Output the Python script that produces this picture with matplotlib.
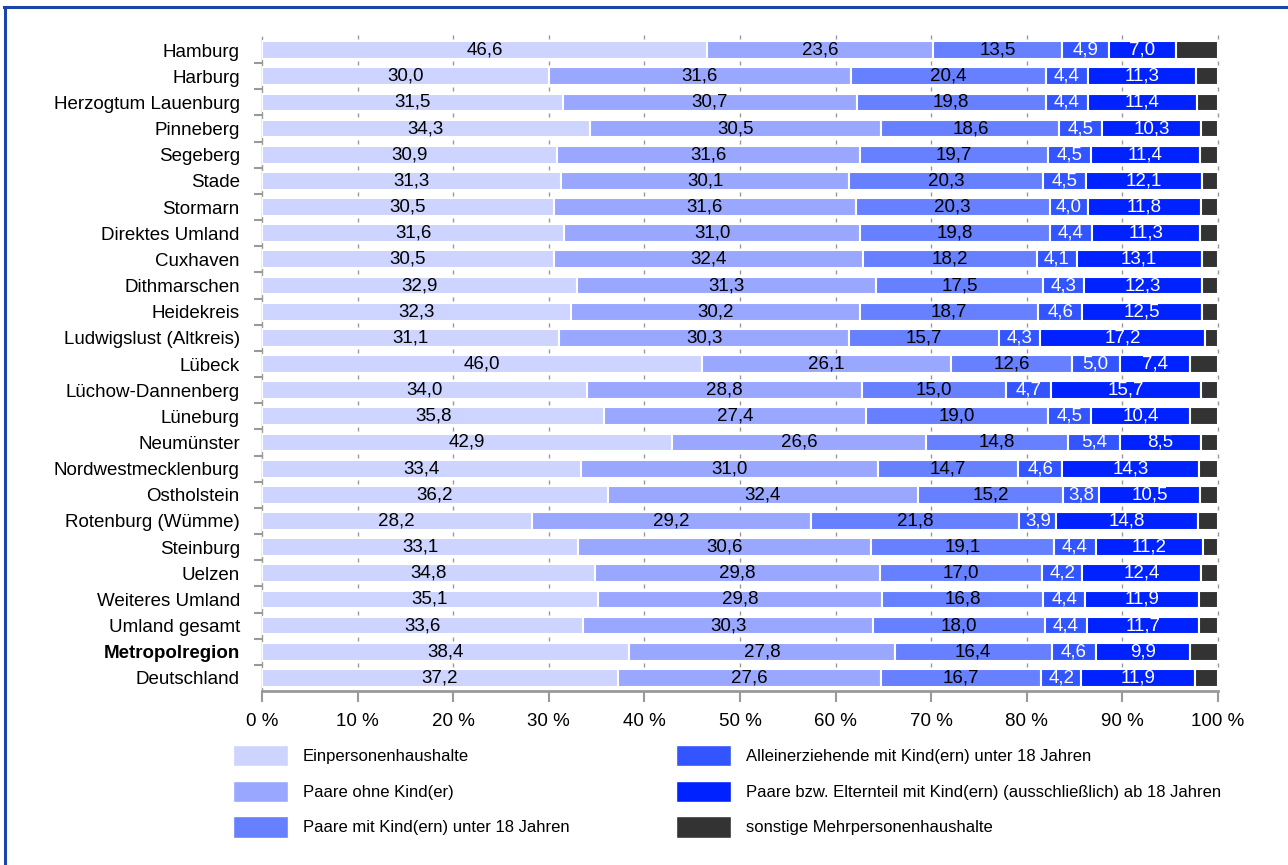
import matplotlib
matplotlib.use("Agg")
import matplotlib.pyplot as plt
from matplotlib.lines import Line2D
from matplotlib.patches import Patch
import numpy as np

plt.rcParams["font.family"] = ["Liberation Sans", "DejaVu Sans"]

regions = [
    "Hamburg", "Harburg", "Herzogtum Lauenburg", "Pinneberg", "Segeberg",
    "Stade", "Stormarn", "Direktes Umland", "Cuxhaven", "Dithmarschen",
    "Heidekreis", "Ludwigslust (Altkreis)", "Lübeck", "Lüchow-Dannenberg",
    "Lüneburg", "Neumünster", "Nordwestmecklenburg", "Ostholstein",
    "Rotenburg (Wümme)", "Steinburg", "Uelzen", "Weiteres Umland",
    "Umland gesamt", "Metropolregion", "Deutschland",
]

einpersonen = [46.6, 30.0, 31.5, 34.3, 30.9, 31.3, 30.5, 31.6, 30.5, 32.9,
               32.3, 31.1, 46.0, 34.0, 35.8, 42.9, 33.4, 36.2, 28.2, 33.1,
               34.8, 35.1, 33.6, 38.4, 37.2]
paare_ohne = [23.6, 31.6, 30.7, 30.5, 31.6, 30.1, 31.6, 31.0, 32.4, 31.3,
              30.2, 30.3, 26.1, 28.8, 27.4, 26.6, 31.0, 32.4, 29.2, 30.6,
              29.8, 29.8, 30.3, 27.8, 27.6]
paare_mit = [13.5, 20.4, 19.8, 18.6, 19.7, 20.3, 20.3, 19.8, 18.2, 17.5,
             18.7, 15.7, 12.6, 15.0, 19.0, 14.8, 14.7, 15.2, 21.8, 19.1,
             17.0, 16.8, 18.0, 16.4, 16.7]
alleinerz = [4.9, 4.4, 4.4, 4.5, 4.5, 4.5, 4.0, 4.4, 4.1, 4.3,
             4.6, 4.3, 5.0, 4.7, 4.5, 5.4, 4.6, 3.8, 3.9, 4.4,
             4.2, 4.4, 4.4, 4.6, 4.2]
ab18 = [7.0, 11.3, 11.4, 10.3, 11.4, 12.1, 11.8, 11.3, 13.1, 12.3,
        12.5, 17.2, 7.4, 15.7, 10.4, 8.5, 14.3, 10.5, 14.8, 11.2,
        12.4, 11.9, 11.7, 9.9, 11.9]
sonstige = [4.4, 2.3, 2.2, 1.8, 1.9, 1.7, 1.8, 1.9, 1.7, 1.7,
            1.7, 1.4, 2.9, 1.8, 2.9, 1.8, 2.0, 1.9, 2.1, 1.6,
            1.8, 2.0, 2.0, 2.9, 2.4]

series_labels = [
    "Einpersonenhaushalte",
    "Paare ohne Kind(er)",
    "Paare mit Kind(ern) unter 18 Jahren",
    "Alleinerziehende mit Kind(ern) unter 18 Jahren",
    "Paare bzw. Elternteil mit Kind(ern) (ausschließlich) ab 18 Jahren",
    "sonstige Mehrpersonenhaushalte",
]
colors = ["#CCD4FF", "#99A7FF", "#6680FF", "#3355FF", "#0022FF", "#333333"]
text_colors = ["black", "black", "black", "white", "white", None]
xticks = [0, 10, 20, 30, 40, 50, 60, 70, 80, 90, 100]

series = [einpersonen, paare_ohne, paare_mit, alleinerz, ab18, sonstige]

FS = 13.5

fig = plt.figure(figsize=(12.88, 8.65), dpi=100)
ax = fig.add_axes([262 / 1288, 1 - 691 / 865, 956 / 1288, 654 / 865])

y = np.arange(len(regions))
left = np.zeros(len(regions))
for vals, col, tcol in zip(series, colors, text_colors):
    vals = np.array(vals)
    ax.barh(y, vals, left=left, height=0.68, color=col,
            edgecolor="white", linewidth=1.5, zorder=3)
    if tcol is not None:
        for yi, l, v in zip(y, left, vals):
            ax.text(l + v / 2, yi, f"{v:.1f}".replace(".", ","),
                    ha="center", va="center", fontsize=FS, color=tcol,
                    zorder=4)
    left = left + vals

ax.set_xlim(0, 100)
ax.set_ylim(len(regions) - 0.5, -0.5)

# small grid marks in the gaps between bars
bounds = np.arange(len(regions)) - 0.5
gx, gy = np.meshgrid(xticks[1:], bounds)
ax.plot(gx.ravel(), gy.ravel(), ls="none", marker="|", ms=3, mew=1,
        color="#999999", zorder=1, clip_on=False)

ax.set_xticks(xticks)
ax.set_xticklabels([f"{t} %" for t in xticks], fontsize=FS)
ax.tick_params(axis="x", length=8, width=1.5, color="#999999", pad=8)

ax.set_yticks(y)
ax.set_yticklabels(regions, fontsize=FS)
ax.get_yticklabels()[regions.index("Metropolregion")].set_fontweight("bold")
ax.tick_params(axis="y", length=0, pad=16)
ax.set_yticks(bounds[1:], minor=True)
ax.tick_params(axis="y", which="minor", length=6, width=1.5, color="#999999")

for s in ("top", "right"):
    ax.spines[s].set_visible(False)
ax.spines["left"].set_color("#999999")
ax.spines["left"].set_linewidth(1)
ax.spines["bottom"].set_color("#999999")
ax.spines["bottom"].set_linewidth(2)

# legend, two columns of three
handles = [Patch(facecolor=c, edgecolor="white") for c in colors]
leg_kw = dict(frameon=False, fontsize=12, handlelength=3.3, handleheight=1.6,
              handletextpad=0.9, labelspacing=0.85, borderpad=0,
              borderaxespad=0, loc="upper left")
leg1 = fig.legend(handles[:3], series_labels[:3],
                  bbox_to_anchor=(233 / 1288, 1 - 745 / 865), **leg_kw)
leg2 = fig.legend(handles[3:], series_labels[3:],
                  bbox_to_anchor=(676 / 1288, 1 - 745 / 865), **leg_kw)

# frame line (top and left only visible)
frame_col = "#1A46A5"
fig.add_artist(Line2D([4 / 1288, 1], [1 - 7 / 865, 1 - 7 / 865],
                      transform=fig.transFigure, color=frame_col, lw=2.2))
fig.add_artist(Line2D([5 / 1288, 5 / 1288], [0, 1 - 7 / 865],
                      transform=fig.transFigure, color=frame_col, lw=2.2))

fig.savefig("out.png", dpi=100)
